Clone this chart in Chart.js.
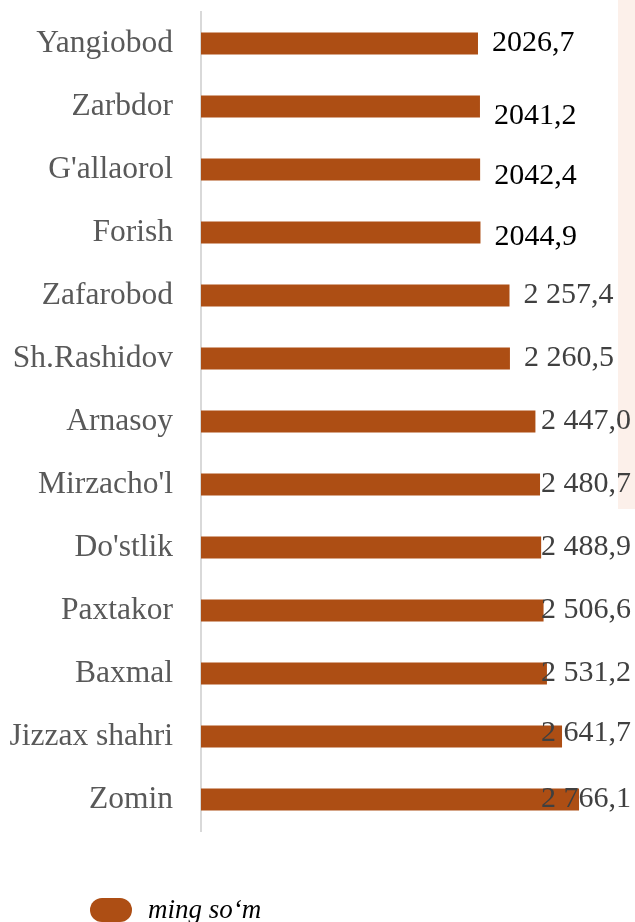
<!DOCTYPE html>
<html>
<head>
<meta charset="utf-8">
<script src="https://cdn.jsdelivr.net/npm/chart.js@4/dist/chart.umd.min.js"></script>
<style>
    html, body { margin: 0; padding: 0; background: #fff; overflow: hidden; }
    #wrap { position: relative; width: 635px; height: 922px; }
    #legend { position: absolute; left: 90px; top: 896px; height: 30px; font-family: 'Liberation Serif', serif; }
    #legend .swatch { position: absolute; left: 0; top: 2px; width: 42px; height: 24px; border-radius: 12px; background: #ad4e14; }
    #legend .text { position: absolute; left: 58px; top: 0; font-size: 27px; line-height: 27px; font-style: italic; color: #000; white-space: nowrap; }
</style>
</head>
<body>
<div id="wrap">
    <canvas id="chart" width="635" height="922"></canvas>
    <div id="legend"><span class="swatch"></span><span class="text">ming so‘m</span></div>
</div>
<script>
// Туманы (сверху вниз)
const districts = [
    'Yangiobod', 'Zarbdor', "G'allaorol", 'Forish', 'Zafarobod', 'Sh.Rashidov',
    'Arnasoy', "Mirzacho'l", "Do'stlik", 'Paxtakor', 'Baxmal', 'Jizzax shahri', 'Zomin'
];

// Значения, ming so'm
const values = [
    2026.7, 2041.2, 2042.4, 2044.9, 2257.4, 2260.5,
    2447.0, 2480.7, 2488.9, 2506.6, 2531.2, 2641.7, 2766.1
];

// Подписи значений как в оригинале
const valueLabels = [
    '2026,7', '2041,2', '2042,4', '2044,9', '2 257,4', '2 260,5',
    '2 447,0', '2 480,7', '2 488,9', '2 506,6', '2 531,2', '2 641,7', '2 766,1'
];

const BAR_COLOR = '#ad4e14';
const SERIF = "'Liberation Serif', 'Times New Roman', serif";

// Небольшие сдвиги подписей по вертикали
const labelNudgeY = [0, 10, 7, 5, 0, 0, 0, 0, 0, 0, 0, -3, 0];

// Светлая полоса справа
const stripPlugin = {
    id: 'strip',
    beforeDraw(chart) {
        const ctx = chart.ctx;
        ctx.save();
        ctx.fillStyle = '#fcf0ea';
        ctx.fillRect(618, 0, chart.width - 618, 509);
        ctx.restore();
    }
};

// Подписи значений у столбцов
const valueLabelPlugin = {
    id: 'valueLabels',
    afterDatasetsDraw(chart) {
        const ctx = chart.ctx;
        const meta = chart.getDatasetMeta(0);
        ctx.save();
        ctx.font = `30px ${SERIF}`;
        ctx.textBaseline = 'middle';
        ctx.textAlign = 'left';
        meta.data.forEach((bar, i) => {
            const text = valueLabels[i];
            const w = ctx.measureText(text).width;
            const x = Math.min(bar.x + 14, 631 - w);
            ctx.fillStyle = text.includes(' ') ? '#404040' : '#000';
            ctx.fillText(text, x, bar.y + labelNudgeY[i]);
        });
        ctx.restore();
    }
};

new Chart(document.getElementById('chart'), {
    type: 'bar',
    data: {
        labels: districts,
        datasets: [{
            label: 'ming so‘m',
            data: values,
            backgroundColor: BAR_COLOR,
            borderWidth: 0,
            barPercentage: 0.35,
            categoryPercentage: 1
        }]
    },
    options: {
        indexAxis: 'y',
        responsive: false,
        animation: false,
        layout: { padding: { top: 12, bottom: 91, left: 0, right: 24 } },
        plugins: {
            legend: { display: false },
            tooltip: { enabled: false }
        },
        scales: {
            x: { min: 0, max: 3000, display: false },
            y: {
                grid: { display: false, drawTicks: false },
                border: { display: true, color: '#d9d9d9', width: 2 },
                ticks: {
                    color: '#595959',
                    padding: 28,
                    font: { family: SERIF, size: 31.5 }
                },
                afterFit(scale) {
                    scale.width = 201;
                    scale.paddingTop = 0;
                    scale.paddingBottom = 0;
                }
            }
        }
    },
    plugins: [stripPlugin, valueLabelPlugin]
});
</script>
</body>
</html>
